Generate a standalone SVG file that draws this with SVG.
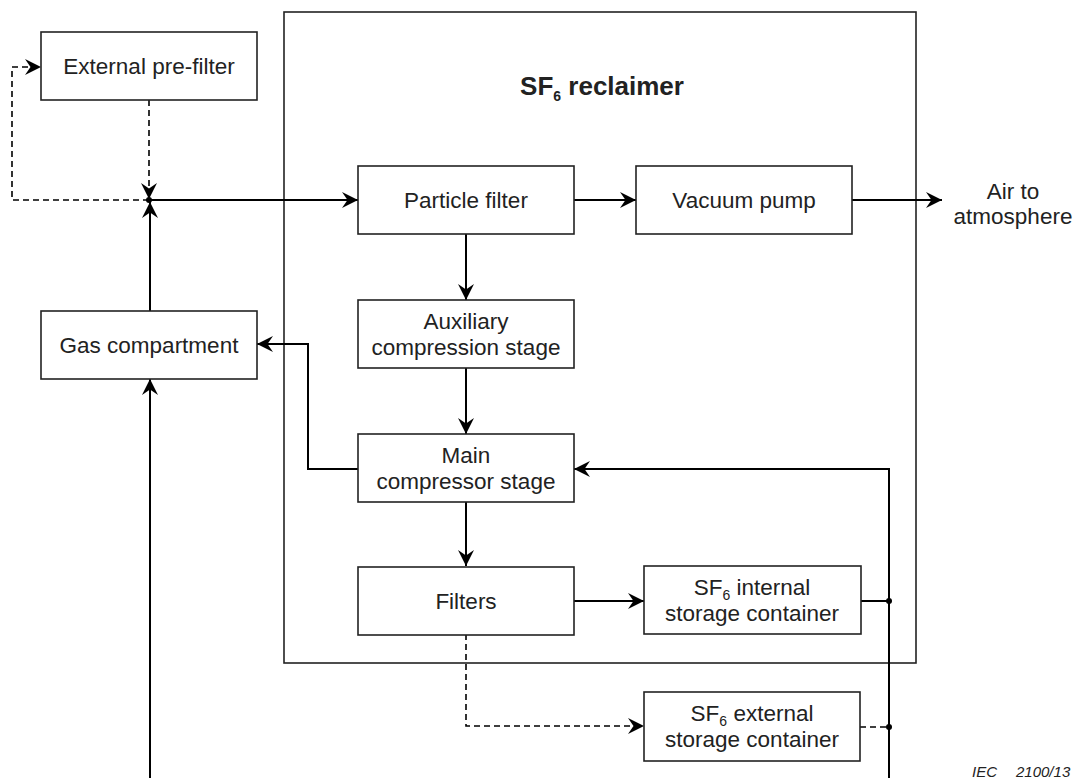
<svg xmlns="http://www.w3.org/2000/svg" width="1078" height="778" viewBox="0 0 1078 778">
<defs>
<style>
.box{fill:#fff;stroke:#222;stroke-width:1.6}
.frame{fill:none;stroke:#222;stroke-width:1.6}
.t{font-family:"Liberation Sans",Arial,sans-serif;font-size:22.5px;fill:#222;text-anchor:middle}
.title{font-family:"Liberation Sans",Arial,sans-serif;font-size:26px;font-weight:bold;fill:#222;text-anchor:middle}
.sub{font-size:14px}
.c{fill:none;stroke:#000;stroke-width:2}
.d{fill:none;stroke:#000;stroke-width:1.6;stroke-dasharray:6 4}
.dot{fill:#000}
.iec{font-family:"Liberation Sans",Arial,sans-serif;font-size:15px;font-style:italic;fill:#222}
</style>
<marker id="ah" markerUnits="userSpaceOnUse" markerWidth="20" markerHeight="20" viewBox="-18 -10 20 20" refX="0" refY="0" orient="auto">
<path d="M0,0 L-16,-8 L-10.5,0 L-16,8 Z" fill="#000"/>
</marker>
</defs>
<rect class="frame" x="284" y="12" width="632" height="651"/>
<text class="title" x="602" y="95">SF<tspan class="sub" dy="6">6</tspan><tspan dy="-6"> reclaimer</tspan></text>

<g id="connectors">
<path class="d" d="M149,200 H12 V67 H41" marker-end="url(#ah)"/>
<path class="d" d="M149,100 V199" marker-end="url(#ah)"/>
<path class="c" d="M150,311 V202" marker-end="url(#ah)"/>
<path class="c" d="M149,200 H358" marker-end="url(#ah)"/>
<path class="c" d="M574,200 H636" marker-end="url(#ah)"/>
<path class="c" d="M852,200 H942" marker-end="url(#ah)"/>
<path class="c" d="M466,234 V300" marker-end="url(#ah)"/>
<path class="c" d="M466,368 V434" marker-end="url(#ah)"/>
<path class="c" d="M466,502 V566" marker-end="url(#ah)"/>
<path class="c" d="M574,601 H644" marker-end="url(#ah)"/>
<path class="c" d="M358,469 H308 V344 H257" marker-end="url(#ah)"/>
<path class="c" d="M150,780 V379" marker-end="url(#ah)"/>
<path class="c" d="M889,780 V469 H574" marker-end="url(#ah)"/>
<path class="c" d="M861,601 H889"/>
<path class="d" d="M466,634 V726 H644" marker-end="url(#ah)"/>
<path class="d" d="M860,727 H889"/>
<circle class="dot" cx="149" cy="200" r="3"/>
<circle class="dot" cx="889" cy="601" r="3"/>
<circle class="dot" cx="889" cy="727" r="3"/>
</g>

<g id="external-prefilter">
<rect class="box" x="41" y="32" width="216" height="68"/>
<text class="t" x="149" y="74">External pre-filter</text>
</g>
<g id="gas-compartment">
<rect class="box" x="41" y="311" width="216" height="68"/>
<text class="t" x="149" y="353">Gas compartment</text>
</g>
<g id="particle-filter">
<rect class="box" x="358" y="166" width="216" height="68"/>
<text class="t" x="466" y="208">Particle filter</text>
</g>
<g id="vacuum-pump">
<rect class="box" x="636" y="166" width="216" height="68"/>
<text class="t" x="744" y="208">Vacuum pump</text>
</g>
<g id="air">
<text class="t" x="1013" y="199">Air to</text>
<text class="t" x="1013" y="224">atmosphere</text>
</g>
<g id="aux-compression">
<rect class="box" x="358" y="300" width="216" height="68"/>
<text class="t" x="466" y="329">Auxiliary</text>
<text class="t" x="466" y="355">compression stage</text>
</g>
<g id="main-compressor">
<rect class="box" x="358" y="434" width="216" height="68"/>
<text class="t" x="466" y="463">Main</text>
<text class="t" x="466" y="489">compressor stage</text>
</g>
<g id="filters">
<rect class="box" x="358" y="567" width="216" height="68"/>
<text class="t" x="466" y="609">Filters</text>
</g>
<g id="internal-storage">
<rect class="box" x="644" y="566" width="217" height="68"/>
<text class="t" x="752" y="595">SF<tspan class="sub" dy="5">6</tspan><tspan dy="-5"> internal</tspan></text>
<text class="t" x="752" y="621">storage container</text>
</g>
<g id="external-storage">
<rect class="box" x="644" y="692" width="216" height="69"/>
<text class="t" x="752" y="721">SF<tspan class="sub" dy="5">6</tspan><tspan dy="-5"> external</tspan></text>
<text class="t" x="752" y="747">storage container</text>
</g>
<text class="iec" x="972" y="777">IEC</text>
<text class="iec" x="1016" y="777">2100/13</text>
</svg>
